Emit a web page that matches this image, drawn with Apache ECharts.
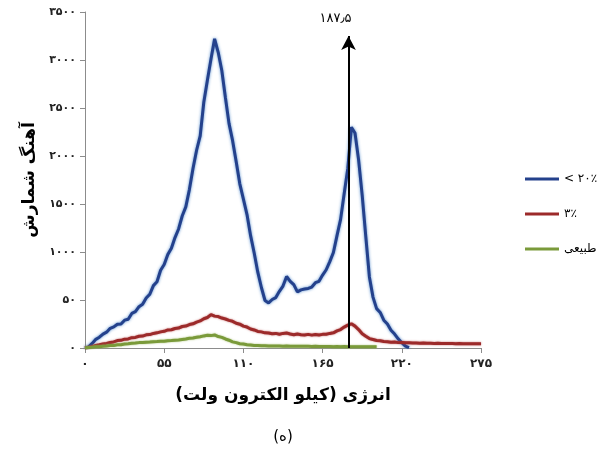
<!DOCTYPE html>
<html>
<head>
<meta charset="utf-8">
<script src="https://cdn.jsdelivr.net/npm/echarts@6/dist/echarts.min.js"></script>
<style>
html,body{margin:0;padding:0;background:#fff;}
#c{width:601px;height:454px;}
</style>
</head>
<body>
<div id="c"></div>
<script>
// Energy grid step (keV) for the sampled spectra
const STEP = 2.5;
const seriesNames = ['< ۲۰٪', '۳٪', 'طبیعی'];
const xTickLabels = ['۰', '۵۵', '۱۱۰', '۱۶۵', '۲۲۰', '۲۷۵'];
const yTickLabels = ['۰', '۵۰', '۱۰۰۰', '۱۵۰۰', '۲۰۰۰', '۲۵۰۰', '۳۰۰۰', '۳۵۰۰'];
const markerEnergy = 183;
const markerTop = 3250;
const markerLabel = '۱۸۷٫۵';

// counts, blue (<20%) from 0 to 225 keV
const blueValues = [0, 12, 48, 90, 112, 145, 165, 205, 220, 248, 250, 290, 300, 360, 378, 430, 455, 520, 560, 650,
  690, 810, 870, 975, 1040, 1150, 1240, 1375, 1470, 1650, 1870, 2060, 2210, 2560, 2790, 3010, 3220, 3080, 2890, 2610,
  2340, 2160, 1940, 1710, 1550, 1390, 1170, 990, 790, 630, 495, 470, 505, 525, 590, 645, 745, 695, 660, 585,
  605, 615, 620, 635, 680, 695, 760, 815, 900, 995, 1170, 1340, 1610, 1870, 2300, 2240, 1960, 1590, 1160, 740,
  530, 410, 370, 290, 250, 185, 145, 95, 55, 20, 5];

// counts, red (3%) from 0 to 275 keV
const redValues = [0, 6, 14, 27, 33, 42, 48, 58, 63, 77, 80, 92, 95, 108, 110, 122, 124, 137, 140, 152,
  158, 168, 174, 188, 190, 203, 208, 224, 228, 244, 252, 270, 282, 305, 318, 348, 332, 328, 312, 302,
  288, 278, 258, 248, 228, 218, 198, 188, 172, 168, 158, 157, 148, 152, 143, 152, 156, 146, 138, 146,
  139, 136, 142, 134, 141, 135, 142, 144, 152, 158, 178, 192, 218, 238, 252, 228, 192, 148, 122, 98,
  88, 78, 76, 68, 66, 60, 62, 56, 58, 54, 55, 52, 53, 50, 52, 49, 50, 48, 49, 47,
  48, 46, 47, 45, 46, 44, 45, 44, 45, 43, 44];

// counts, green (natural) from 0 to 202.5 keV
const greenValues = [0, 4, 7, 13, 14, 19, 21, 26, 27, 33, 34, 41, 44, 49, 51, 56, 57, 61, 62, 66,
  67, 71, 71, 76, 77, 81, 84, 89, 94, 101, 104, 111, 117, 126, 133, 129, 136, 119, 111, 94,
  81, 64, 56, 44, 41, 34, 31, 27, 26, 23, 24, 21, 22, 20, 21, 19, 20, 18, 19, 17,
  18, 17, 17, 16, 17, 15, 16, 15, 16, 14, 15, 14, 15, 14, 14, 13, 14, 13, 13, 12,
  13, 12];

const toPairs = vals => vals.map((v, i) => [i * STEP, v]);

const FONT = "'DejaVu Sans', 'Noto Sans', sans-serif";
const chart = echarts.init(document.getElementById('c'), null, {renderer: 'canvas'});

chart.setOption({
  animation: false,
  backgroundColor: '#ffffff',
  grid: {left: 85, top: 12, width: 396, height: 336, containLabel: false},
  legend: {
    orient: 'vertical',
    left: 525,
    top: 171,
    padding: 0,
    icon: 'rect',
    itemWidth: 34,
    itemHeight: 3,
    itemGap: 19,
    textStyle: {fontFamily: FONT, fontSize: 12, color: '#000', lineHeight: 16},
    data: seriesNames
  },
  xAxis: {
    type: 'value',
    min: 0, max: 275, interval: 55,
    axisLine: {lineStyle: {color: '#8c8c8c', width: 1}},
    axisTick: {show: true, length: 5, lineStyle: {color: '#8c8c8c'}},
    splitLine: {show: false},
    axisLabel: {
      margin: 10, fontFamily: FONT, fontSize: 12, fontWeight: 'bold', color: '#222',
      formatter: v => xTickLabels[Math.round(v / 55)]
    }
  },
  yAxis: {
    type: 'value',
    min: 0, max: 3500, interval: 500,
    axisLine: {show: true, lineStyle: {color: '#8c8c8c', width: 1}},
    axisTick: {show: true, length: 5, lineStyle: {color: '#8c8c8c'}},
    splitLine: {show: false},
    axisLabel: {
      margin: 9, fontFamily: FONT, fontSize: 11, fontWeight: 'bold', color: '#222',
      formatter: v => yTickLabels[Math.round(v / 500)]
    }
  },
  graphic: [
    {type: 'text', x: 30, y: 180, rotation: Math.PI / 2,
      style: {text: 'آهنگ شمارش', font: 'bold 17px ' + FONT, fill: '#000', textAlign: 'center', textVerticalAlign: 'middle'}},
    {type: 'text', x: 283, y: 396,
      style: {text: 'انرژی (کیلو الکترون ولت)', font: 'bold 17px ' + FONT, fill: '#000', textAlign: 'center', textVerticalAlign: 'middle'}},
    {type: 'text', x: 283, y: 437,
      style: {text: '(ه)', font: '15px ' + FONT, fill: '#000', textAlign: 'center', textVerticalAlign: 'middle'}}
  ],
  series: [
    {
      name: seriesNames[0], type: 'line', showSymbol: false, symbol: 'none', z: 3,
      data: toPairs(blueValues),
      color: '#24418c',
      lineStyle: {color: '#24418c', width: 3, shadowColor: 'rgba(70,130,200,0.9)', shadowBlur: 3},
      markLine: {
        silent: true, symbol: ['none', 'arrow'], symbolSize: [11, 14], z: 10,
        lineStyle: {color: '#000', width: 2, type: 'solid'},
        label: {show: false},
        data: [[{coord: [markerEnergy, 0]}, {coord: [markerEnergy, markerTop]}]]
      },
      markPoint: {
        silent: true, symbol: 'circle', symbolSize: 0,
        data: [{coord: [markerEnergy, markerTop],
          label: {show: true, position: 'top', formatter: markerLabel, offset: [-13, -6],
            fontFamily: FONT, fontSize: 13, color: '#000'}}]
      }
    },
    {
      name: seriesNames[1], type: 'line', showSymbol: false, symbol: 'none', z: 4,
      data: toPairs(redValues),
      color: '#9c2a2a',
      lineStyle: {color: '#9c2a2a', width: 3, shadowColor: 'rgba(180,70,70,0.8)', shadowBlur: 2}
    },
    {
      name: seriesNames[2], type: 'line', showSymbol: false, symbol: 'none', z: 5,
      data: toPairs(greenValues),
      color: '#7a9a3a',
      lineStyle: {color: '#7a9a3a', width: 3, shadowColor: 'rgba(150,180,90,0.8)', shadowBlur: 2}
    }
  ]
});
</script>
</body>
</html>
